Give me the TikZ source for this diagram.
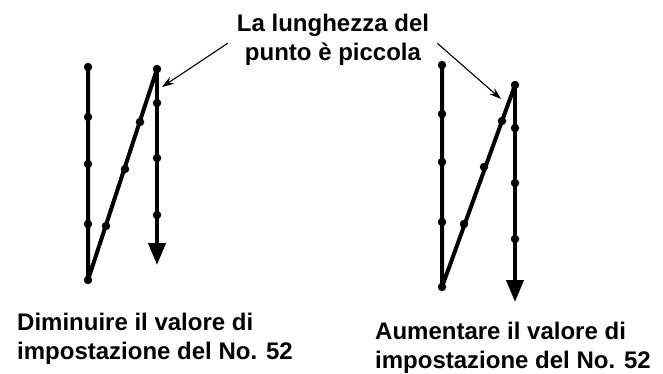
\documentclass[tikz,border=0pt]{standalone}
\usepackage{fontspec}
\setsansfont{Liberation Sans}
\usetikzlibrary{arrows.meta}

\begin{document}
\begin{tikzpicture}[x=1pt, y=-1pt,
  every node/.style={font=\sffamily\bfseries\fontsize{24}{29}\selectfont, inner sep=0pt},
  stitch/.style={line width=4pt, line join=round},
  feed/.style={stitch, -{Triangle[length=22pt,width=17pt]}},
  pin/.style={circle, fill, minimum size=8.5pt},
  leader/.style={line width=1.1pt, -{Stealth[length=12pt,width=8pt]}}
]
\useasboundingbox (0,0) rectangle (663,374);

% Left stitch (shorter pitch)
\node[pin] (dl1) at (88,67) {};
\node[pin] (dl2) at (88,117) {};
\node[pin] (dl3) at (88,164) {};
\node[pin] (dl4) at (88,224) {};
\node[pin] (dl5) at (88,280) {};
\node[pin] (dl6) at (106,226) {};
\node[pin] (dl7) at (125,169) {};
\node[pin] (dl8) at (140,122) {};
\node[pin] (dl9) at (157,69) {};
\node[pin] (dl10) at (157,103) {};
\node[pin] (dl11) at (157,158) {};
\node[pin] (dl12) at (157,215) {};
\coordinate (dlEnd) at (157,265);
\draw[stitch] (dl1.center) -- (dl5.center) -- (dl9.center);
\draw[feed] (dl9.center) -- (dlEnd);

% Right stitch (longer pitch)
\node[pin] (dr1) at (442,65) {};
\node[pin] (dr2) at (442,114) {};
\node[pin] (dr3) at (442,162) {};
\node[pin] (dr4) at (442,222) {};
\node[pin] (dr5) at (442,287) {};
\node[pin] (dr6) at (464,224) {};
\node[pin] (dr7) at (484,167) {};
\node[pin] (dr8) at (502,121) {};
\node[pin] (dr9) at (515,85) {};
\node[pin] (dr10) at (515,128) {};
\node[pin] (dr11) at (515,183) {};
\node[pin] (dr12) at (515,239) {};
\coordinate (drEnd) at (515,302);
\draw[stitch] (dr1.center) -- (dr5.center) -- (dr9.center);
\draw[feed] (dr9.center) -- (drEnd);

% Labels
\node[anchor=north, align=center] (title) at (333,13.8) {La lunghezza del\\punto è piccola};
\node[anchor=north west, align=left] (less) at (17,312.8) {Diminuire il valore di\\impostazione del No. 52};
\node[anchor=north west, align=left] (more) at (375,321.8) {Aumentare il valore di\\impostazione del No. 52};

% Leaders
\coordinate (tipL) at (162,87);
\coordinate (tipR) at (501,99);
\draw[leader] ([shift={(-9,3.5)}]title.west) -- (tipL);
\draw[leader] ([shift={(8,3.5)}]title.east) -- (tipR);

\end{tikzpicture}
\end{document}
